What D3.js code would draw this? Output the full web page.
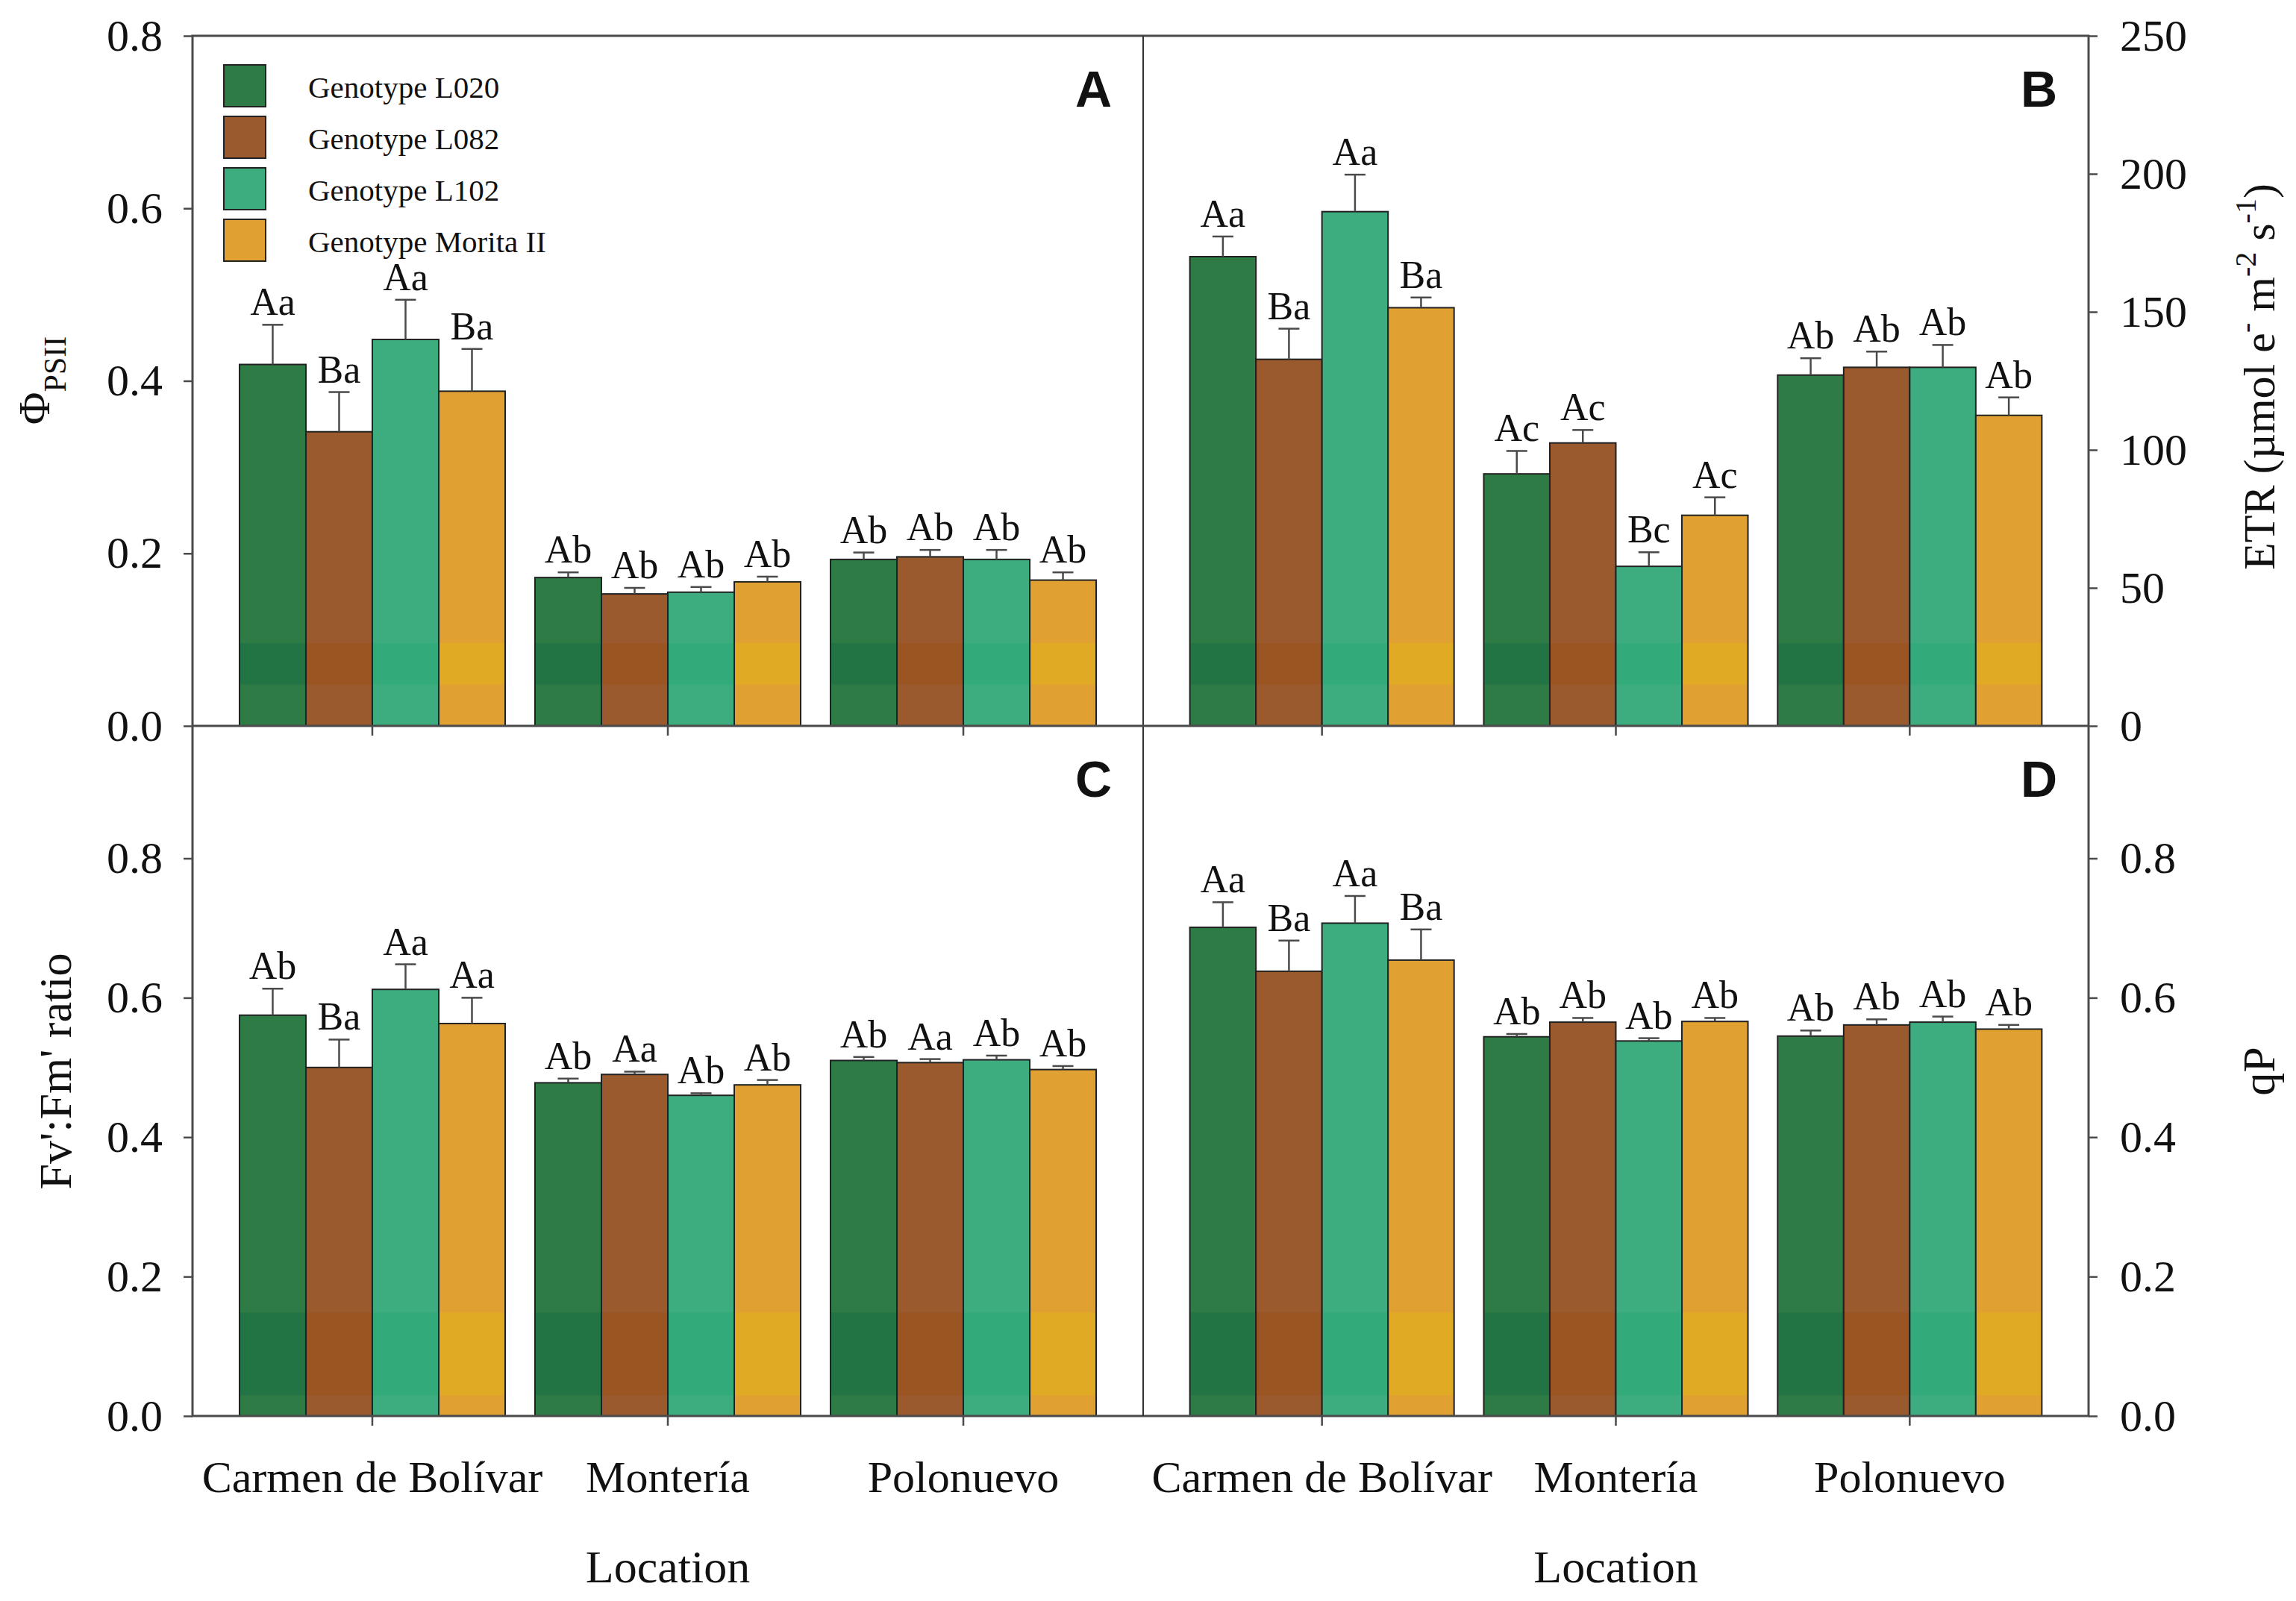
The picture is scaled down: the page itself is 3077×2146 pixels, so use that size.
<!DOCTYPE html>
<html>
<head>
<meta charset="utf-8">
<script src="https://cdn.jsdelivr.net/npm/d3@7"></script>
<style>
  body { margin: 0; background: #fff; }
  svg text { font-family: 'Liberation Serif', 'Times New Roman', serif; fill: #111; }
</style>
</head>
<body>
<div id="fig"></div>
<script>
var WIDTH = 3077, HEIGHT = 2146;
var LEFT = 258, MID = 1532, RIGHT = 2799;
var TOP = 48, MIDY = 973, BOTTOM = 1898;
var LINE = '#4a4a4a';
var SERIF = "'Liberation Serif', 'Times New Roman', serif";

var locations = ['Carmen de Bolívar', 'Montería', 'Polonuevo'];
var genotypes = ['Genotype L020', 'Genotype L082', 'Genotype L102', 'Genotype Morita II'];
var colors = ['#2e7b45', '#9a5a2e', '#3dac7e', '#e0a032'];
// slightly darker strip near the base of every bar in the original
var bandColors = ['#237445', '#9a5522', '#33aa7a', '#e0aa25'];

// rows = location, columns = genotype
var phiMeans = [[0.419, 0.341, 0.448, 0.388], [0.172, 0.153, 0.155, 0.167], [0.193, 0.196, 0.193, 0.169]];
var phiErr = [[0.046, 0.046, 0.046, 0.049], [0.006, 0.007, 0.006, 0.006], [0.008, 0.008, 0.011, 0.009]];
var phiLetters = [['Aa', 'Ba', 'Aa', 'Ba'], ['Ab', 'Ab', 'Ab', 'Ab'], ['Ab', 'Ab', 'Ab', 'Ab']];

var etrMeans = [[170.0, 132.8, 186.3, 151.5], [91.3, 102.5, 57.8, 76.3], [127.1, 129.9, 129.9, 112.5]];
var etrErr = [[7.3, 11.1, 13.4, 3.7], [8.3, 4.7, 5.1, 6.5], [6.1, 5.7, 8.1, 6.5]];
var etrLetters = [['Aa', 'Ba', 'Aa', 'Ba'], ['Ac', 'Ac', 'Bc', 'Ac'], ['Ab', 'Ab', 'Ab', 'Ab']];

var fvMeans = [[0.575, 0.500, 0.612, 0.563], [0.478, 0.490, 0.460, 0.475], [0.510, 0.507, 0.511, 0.497]];
var fvErr = [[0.038, 0.040, 0.036, 0.037], [0.006, 0.004, 0.003, 0.007], [0.005, 0.005, 0.006, 0.005]];
var fvLetters = [['Ab', 'Ba', 'Aa', 'Aa'], ['Ab', 'Aa', 'Ab', 'Ab'], ['Ab', 'Aa', 'Ab', 'Ab']];

var qpMeans = [[0.701, 0.638, 0.707, 0.654], [0.544, 0.565, 0.538, 0.566], [0.545, 0.561, 0.565, 0.555]];
var qpErr = [[0.036, 0.044, 0.039, 0.044], [0.004, 0.006, 0.004, 0.005], [0.008, 0.008, 0.008, 0.006]];
var qpLetters = [['Aa', 'Ba', 'Aa', 'Ba'], ['Ab', 'Ab', 'Ab', 'Ab'], ['Ab', 'Ab', 'Ab', 'Ab']];

var fracTicks = [0, 0.2, 0.4, 0.6, 0.8];
var etrTicks = [0, 50, 100, 150, 200, 250];

var panels = [
    { id: 'A', means: phiMeans, errs: phiErr, letters: phiLetters, domain: [0, 0.8], ticks: fracTicks, fmt: '.1f',
      x0: LEFT, x1: MID, y0: MIDY, y1: TOP, side: 'left', band: [0.06, 0.12], labels: false },
    { id: 'B', means: etrMeans, errs: etrErr, letters: etrLetters, domain: [0, 250], ticks: etrTicks, fmt: 'd',
      x0: MID, x1: RIGHT, y0: MIDY, y1: TOP, side: 'right', band: [0.06, 0.12], labels: false },
    { id: 'C', means: fvMeans, errs: fvErr, letters: fvLetters, domain: [0, 0.99], ticks: fracTicks, fmt: '.1f',
      x0: LEFT, x1: MID, y0: BOTTOM, y1: MIDY, side: 'left', band: [0.03, 0.15], labels: true },
    { id: 'D', means: qpMeans, errs: qpErr, letters: qpLetters, domain: [0, 0.99], ticks: fracTicks, fmt: '.1f',
      x0: MID, x1: RIGHT, y0: BOTTOM, y1: MIDY, side: 'right', band: [0.03, 0.15], labels: true }
];

var svg = d3.select('#fig').append('svg').attr('width', WIDTH).attr('height', HEIGHT);
svg.append('rect').attr('width', WIDTH).attr('height', HEIGHT).attr('fill', '#fff');

/** Draw one panel with bars, error bars, letters and axes. */
function drawPanel(p) {
    var g = svg.append('g');
    var x = d3.scaleBand().domain(locations).range([p.x0, p.x1]).paddingInner(0.101).paddingOuter(0.159);
    var xg = d3.scaleBand().domain(genotypes).range([0, x.bandwidth()]);
    var y = d3.scaleLinear().domain(p.domain).range([p.y0, p.y1]);
    var h = p.y0 - p.y1;

    locations.forEach(function (loc, li) {
        genotypes.forEach(function (gen, gi) {
            var v = p.means[li][gi];
            var e = p.errs[li][gi];
            var bx = x(loc) + xg(gen);
            var bw = xg.bandwidth();
            var cx = bx + bw / 2;
            g.append('rect').attr('x', bx).attr('y', y(v)).attr('width', bw).attr('height', y(0) - y(v))
                .attr('fill', colors[gi]);
            var bTop = Math.max(y(v), p.y0 - h * p.band[1]);
            g.append('rect').attr('x', bx).attr('y', bTop).attr('width', bw)
                .attr('height', Math.max(0, (p.y0 - h * p.band[0]) - bTop)).attr('fill', bandColors[gi]);
            g.append('rect').attr('x', bx).attr('y', y(v)).attr('width', bw).attr('height', y(0) - y(v))
                .attr('fill', 'none').attr('stroke', '#222').attr('stroke-width', 2);
            // error bar
            g.append('line').attr('x1', cx).attr('x2', cx).attr('y1', y(v)).attr('y2', y(v + e))
                .attr('stroke', LINE).attr('stroke-width', 2.5);
            g.append('line').attr('x1', cx - 14).attr('x2', cx + 14).attr('y1', y(v + e)).attr('y2', y(v + e))
                .attr('stroke', LINE).attr('stroke-width', 2.5);
            g.append('text').attr('x', cx).attr('y', y(v + e) - 13).attr('text-anchor', 'middle')
                .style('font-size', '52px').text(p.letters[li][gi]);
        });
    });

    // y axis
    var yAxis = (p.side === 'left' ? d3.axisLeft(y) : d3.axisRight(y))
        .tickValues(p.ticks).tickFormat(d3.format(p.fmt)).tickSize(12).tickPadding(p.side === 'left' ? 28 : 30);
    var ya = svg.append('g').attr('transform', 'translate(' + (p.side === 'left' ? p.x0 : p.x1) + ',0)').call(yAxis);
    ya.attr('font-family', null).attr('font-size', null);
    ya.select('.domain').remove();
    ya.selectAll('line').attr('stroke', LINE).attr('stroke-width', 2.5);
    ya.selectAll('text').style('font-size', '60px').style('font-family', SERIF).attr('fill', '#111');

    // x axis ticks (labels only on the bottom row)
    var xAxis = d3.axisBottom(x).tickSize(13).tickPadding(46);
    if (!p.labels) xAxis.tickFormat('');
    var xa = svg.append('g').attr('transform', 'translate(0,' + p.y0 + ')').call(xAxis);
    xa.attr('font-family', null).attr('font-size', null);
    xa.select('.domain').remove();
    xa.selectAll('line').attr('stroke', LINE).attr('stroke-width', 2.5);
    xa.selectAll('text').style('font-size', '60px').style('font-family', SERIF).attr('fill', '#111');

    if (p.labels) {
        svg.append('text').attr('x', x(locations[1]) + x.bandwidth() / 2).attr('y', 2121)
            .attr('text-anchor', 'middle').style('font-size', '62px').text('Location');
    }

    svg.append('text').attr('x', p.x1 - 42).attr('y', p.y1 + 95).attr('text-anchor', 'end')
        .style('font-family', "'Liberation Sans', Arial, sans-serif").style('font-weight', 'bold')
        .style('font-size', '68px').text(p.id);
}

panels.forEach(drawPanel);

// frame and dividers
svg.append('rect').attr('x', LEFT).attr('y', TOP).attr('width', RIGHT - LEFT).attr('height', BOTTOM - TOP)
    .attr('fill', 'none').attr('stroke', LINE).attr('stroke-width', 3);
svg.append('line').attr('x1', MID).attr('x2', MID).attr('y1', TOP).attr('y2', BOTTOM)
    .attr('stroke', '#333').attr('stroke-width', 2);
svg.append('line').attr('x1', LEFT).attr('x2', RIGHT).attr('y1', MIDY).attr('y2', MIDY)
    .attr('stroke', LINE).attr('stroke-width', 3);

// legend
var legend = svg.append('g');
genotypes.forEach(function (gen, i) {
    var ly = 87 + i * 69;
    legend.append('rect').attr('x', 300).attr('y', ly).attr('width', 56).attr('height', 56)
        .attr('fill', colors[i]).attr('stroke', '#222').attr('stroke-width', 2);
    legend.append('text').attr('x', 413).attr('y', ly + 44).style('font-size', '41px').text(gen);
});

// axis titles
var phi = svg.append('text').attr('transform', 'translate(66,510) rotate(-90)').attr('text-anchor', 'middle')
    .style('font-size', '60px');
phi.append('tspan').text('Φ');
phi.append('tspan').attr('dy', 22).style('font-size', '42px').text('PSII');

svg.append('text').attr('transform', 'translate(95,1436) rotate(-90)').attr('text-anchor', 'middle')
    .style('font-size', '62px').text("Fv':Fm' ratio");

var etr = svg.append('text').attr('transform', 'translate(3048,505) rotate(-90)').attr('text-anchor', 'middle')
    .style('font-size', '60px');
etr.append('tspan').text('ETR (µmol e');
etr.append('tspan').attr('dy', -25).style('font-size', '40px').text('-');
etr.append('tspan').attr('dy', 25).text(' m');
etr.append('tspan').attr('dy', -25).style('font-size', '40px').text('-2');
etr.append('tspan').attr('dy', 25).text(' s');
etr.append('tspan').attr('dy', -25).style('font-size', '40px').text('-1');
etr.append('tspan').attr('dy', 25).text(')');

svg.append('text').attr('transform', 'translate(3048,1436) rotate(-90)').attr('text-anchor', 'middle')
    .style('font-size', '62px').text('qP');
</script>
</body>
</html>
